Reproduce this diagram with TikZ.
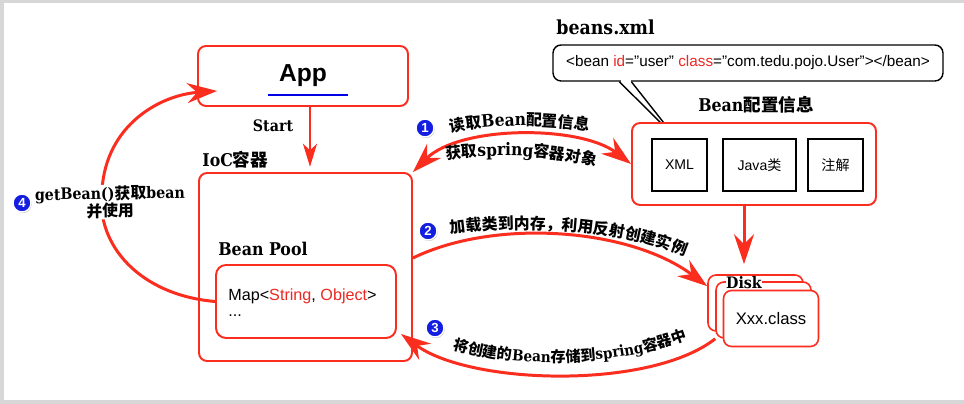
\documentclass[tikz,border=0pt]{standalone}
\usepackage{fontspec}
\setmainfont{DejaVu Serif}[FakeStretch=0.9]
\setsansfont{Liberation Sans}
\newfontfamily\cjk{Noto Sans CJK SC}
\usetikzlibrary{arrows.meta,positioning,calc,decorations.text,shadows}
\definecolor{ared}{RGB}{250,45,30}
\definecolor{tagred}{RGB}{235,40,35}
\definecolor{badgeblue}{RGB}{20,30,225}
\definecolor{frame}{RGB}{215,215,215}
\newcommand\lcj{\cjk\bfseries\fontsize{9}{10}\selectfont}
\newcommand\llt{\rmfamily\bfseries\fontsize{9.8}{10}\selectfont}
\newcommand\scj{\cjk\bfseries\fontsize{8.6}{9}\selectfont}
\newcommand\slt{\rmfamily\bfseries\fontsize{8.6}{9}\selectfont}
\newcommand\glt{\rmfamily\bfseries\fontsize{9}{10}\selectfont}
\tikzset{
  bigtip/.tip={Stealth[length=0.6cm,width=0.4cm,inset=0.2cm]},
  redbox/.style={draw=ared, line width=1.1pt, rounded corners=0.16cm, fill=white, inner sep=0pt},
  kindbox/.style={draw=black, line width=0.9pt, fill=white, minimum width=1.1cm, minimum height=1.04cm,
              font=\sffamily\fontsize{8}{9}\selectfont, inner sep=0pt},
  classbox/.style={redbox, line width=0.9pt, minimum width=1.9cm, minimum height=1.12cm},
  flow/.style={-bigtip, ared, line width=1.7pt},
  startflow/.style={-{Stealth[length=0.46cm,width=0.28cm,inset=0.13cm]}, ared, line width=1.4pt},
  headline/.style={font=\rmfamily\bfseries\fontsize{10}{12}\selectfont, inner sep=0pt},
  badge/.style={circle, fill=badgeblue, draw=white, line width=0.8pt, text=white,
              font=\sffamily\bfseries\fontsize{7.5}{8}\selectfont, inner sep=0pt, minimum size=0.36cm,
              drop shadow={shadow xshift=0.4pt, shadow yshift=-0.6pt, opacity=0.5}},
  along/.style={decorate, decoration={text along path, text align=center, text={#1}}},
}
\begin{document}
\begin{tikzpicture}[x=0.02cm, y=0.02cm]
    \useasboundingbox (0,0) rectangle (964,-404);
    \fill[frame] (0,0) rectangle (964,-404);
    \fill[white] (4,-3) rectangle (964,-400);
    % app and container
    \node[redbox, minimum width=4.2cm, minimum height=1.2cm, font=\sffamily\bfseries\fontsize{14}{16}\selectfont] (app) at (303,-76) {App};
    \draw[blue!90!black, line width=1.3pt] ($(app.center)+(-35,-19)$) -- ++(80,0);
    \node[redbox, minimum width=4.26cm, minimum height=3.76cm] (ioc) at (305.5,-267) {};
    \node[headline, anchor=base west] (ioclbl) at (202,-167) {IoC{\cjk 容器}};
    \node[headline, anchor=base west] (pooltitle) at (218,-256) {Bean Pool};
    \node[redbox, minimum width=3.6cm, minimum height=1.46cm, rounded corners=0.2cm] (pool) at (306,-301.5) {};
    \node[font=\sffamily\fontsize{9.2}{9.5}\selectfont, align=left, anchor=north west, inner sep=0pt] (map) at (228,-288)
      {Map<\textcolor{tagred}{String}, \textcolor{tagred}{Object}>\\...};
    \coordinate (s0) at ($(app.south)+(7,0)$);
    \draw[startflow, shorten >=3pt] (s0) -- (s0 |- ioc.north);
    \node[headline, font=\rmfamily\bfseries\fontsize{9}{11}\selectfont] (start) at (273,-126) {Start};
    % config side
    \node[font=\rmfamily\bfseries\fontsize{11}{13}\selectfont, anchor=base west, inner sep=0pt] (xmlfile) at (556,-35) {beans.xml};
    \node[draw=black, line width=0.8pt, rounded corners=0.16cm, minimum width=7.8cm, minimum height=0.72cm, fill=white,
          font=\sffamily\fontsize{8.7}{10}\selectfont] (tag) at (748,-63)
      {<bean \textcolor{tagred}{id}="user" \textcolor{tagred}{class}="com.tedu.pojo.User"></bean>};
    \coordinate (tip) at (675,-137);
    \fill[white] (621,-79.6) rectangle (631,-82.6);
    \draw[line width=0.8pt, line join=round] ($(tag.south west)+(67,0)$) -- (tip) -- ($(tag.south west)+(79,0)$);
    \node[headline, anchor=base] (cfglbl) at (756,-112) {Bean{\cjk 配置信息}};
    \node[redbox, minimum width=4.88cm, minimum height=1.64cm] (cfg) at (754,-164) {};
    \node[kindbox] (xml) at (679.5,-165) {XML};
    \node[kindbox, minimum width=1.46cm] (java) at (759.5,-165) {Java{\cjk 类}};
    \node[kindbox] (anno) at (835.5,-165) {{\cjk 注解}};
    % disk
    \node[classbox] (diskA) at (755.5,-303) {};
    \node[classbox] (diskB) at (763.5,-310) {};
    \node[classbox, font=\sffamily\fontsize{9.5}{11}\selectfont] (diskC) at (771,-318.5) {Xxx.class};
    \node[headline, fill=white, font=\rmfamily\bfseries\fontsize{9}{11}\selectfont] (disk) at (744,-282.5) {Disk};
    \coordinate (c0) at ($(cfg.south)+(-10,0)$);
    \draw[flow, shorten >=0.2cm] (c0) -- (c0 |- diskA.north);
    % the four steps
    \draw[flow, bigtip-bigtip] (ioc.north east) .. controls (460,-125) and (580,-125) .. (cfg.west);
    \draw[flow] ($(ioc.east)+(0,9)$) .. controls (495,-218) and (630,-228) .. ($(diskA.north west)+(0,-12)$);
    \draw[flow] (diskB.south west) .. controls (650,-390) and (470,-385) .. ($(pool.south east)+(4,5)$);
    \draw[flow] (pool.west) .. controls (140,-295) and (95,-245) .. (102,-190)
                .. controls (106,-125) and (160,-95) .. ($(app.south west)+(20,16)$);
    \node[badge] (b1) at (425,-128) {1};
    \path[along={|\lcj|读取|\llt|Bean|\lcj|配置信息}] (425,-140) .. controls (472,-122) and (568,-121) .. (615,-138);
    \path[along={|\lcj|获取|\llt|spring|\lcj|容器对象}] (415,-165) .. controls (468,-152) and (572,-150) .. (625,-178);
    \node[badge] (b2) at (428,-231) {2};
    \path[along={|\lcj|加载类到内存，利用反射创建实例}] (425,-238) .. controls (505,-222) and (640,-226) .. (708,-268);
    \node[badge] (b3) at (435,-328) {3};
    \path[along={|\scj|将创建的|\slt|Bean|\scj|存储到|\slt|spring|\scj|容器中}] (430,-340) .. controls (495,-372) and (630,-370) .. (710,-330);
    \node[badge] (b4) at (22,-203) {4};
    \node[fill=white, inner sep=0.5pt, align=center, rotate=1, font=\fontsize{9}{10}\selectfont] (use) at (110,-202)
      {{\glt getBean()}{\lcj 获取}{\glt bean}\\{\lcj 并使用}};
\end{tikzpicture}
\end{document}
